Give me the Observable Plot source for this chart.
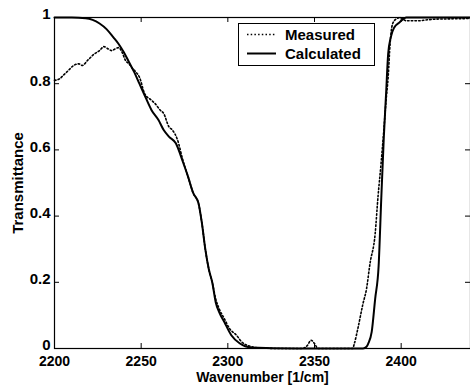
<!DOCTYPE html>
<html><head><meta charset="utf-8">
<script src="https://cdn.jsdelivr.net/npm/d3@7"></script>
<script src="https://cdn.jsdelivr.net/npm/@observablehq/plot@0.6"></script>
<style>
body{margin:0;background:#fff;}
#wrap{position:relative;width:470px;height:385px;overflow:hidden;font-family:"Liberation Sans",Arial,sans-serif;}
#legend{position:absolute;left:238px;top:23px;width:135px;height:41px;border:1px solid #000;background:#fff;font-size:15px;font-weight:bold;color:#000;}
#legend svg{position:absolute;left:0;top:0;}
#legend .t{position:absolute;left:46px;line-height:17px;}
</style></head><body><div id="wrap"></div><script>
const calcW = [2200,2210,2218,2222,2226,2230,2234,2237,2240,2243,2246,2249,2252,2256,2260,2263,2266,2270,2274,2277,2280,2283,2285,2287,2289,2291,2293,2295,2298,2302,2307,2313,2340,2378,2380,2381,2383,2385,2387,2388.5,2390,2391.3,2392.5,2394,2396,2399,2403,2440];
const calcT = [1,1,0.998,0.993,0.982,0.965,0.94,0.92,0.895,0.865,0.835,0.8,0.765,0.72,0.69,0.66,0.64,0.62,0.565,0.52,0.47,0.44,0.38,0.3,0.24,0.2,0.14,0.11,0.08,0.04,0.015,0.003,0,0,0.005,0.015,0.05,0.15,0.25,0.45,0.64,0.77,0.89,0.94,0.97,0.985,1,1];
const measW = [2200,2203,2205,2208,2211,2214,2216,2219,2223,2226,2228.5,2231,2233,2235,2237,2239,2241,2243,2245,2247,2249,2252,2256,2258,2261,2263,2266,2268,2271,2274,2277,2280,2283,2285,2287,2289,2291,2293,2295,2298,2301,2305,2308,2312,2318,2330,2343,2346,2348,2350,2352,2360,2372,2373,2375,2378,2380,2382,2385,2386.6,2388.4,2390,2391.3,2392.5,2393.6,2395,2397,2399.5,2403,2410,2415,2420,2430,2440];
const measT = [0.81,0.815,0.825,0.84,0.855,0.86,0.855,0.87,0.89,0.9,0.912,0.905,0.9,0.905,0.909,0.895,0.87,0.86,0.846,0.835,0.82,0.77,0.75,0.74,0.72,0.71,0.67,0.66,0.63,0.57,0.52,0.47,0.44,0.38,0.3,0.24,0.2,0.15,0.12,0.09,0.06,0.04,0.02,0.008,0.002,0,0,0.01,0.025,0.015,0,0,0,0.015,0.06,0.136,0.18,0.256,0.347,0.456,0.559,0.66,0.75,0.82,0.92,0.98,0.995,1,0.99,0.99,0.993,0.995,0.996,0.997];
const xTicks = [2200,2250,2300,2350,2400];
const yTicks = [0,0.2,0.4,0.6,0.8,1];
const seriesNames = ["Measured","Calculated"];
const xLabel = "Wavenumber [1/cm]";
const yLabel = "Transmittance";

const calc = calcW.map((w,i)=>({w, t: calcT[i]}));
const meas = measW.map((w,i)=>({w, t: measT[i]}));

const W = 470, H = 385, mL = 54, mR = 0, mT = 17, mB = 37;
const pw = W - mL - mR, ph = H - mT - mB, tk = 5;
const dots = "1.5,2.2";

const chart = Plot.plot({
  width: W, height: H,
  marginLeft: mL, marginRight: mR, marginTop: mT, marginBottom: mB,
  style: {fontFamily: '"Liberation Sans", Arial, sans-serif', fontSize: "15px", fontWeight: "bold", background: "#fff", color: "#000"},
  x: {domain: [2200, 2440]},
  y: {domain: [0, 1]},
  marks: [
    Plot.axisX(xTicks, {tickSize: 0, tickPadding: 8, tickFormat: d => String(d), label: null, fontWeight: "bold", fontSize: 14}),
    Plot.axisY(yTicks, {tickSize: 0, tickPadding: 4, tickFormat: d => String(d), label: null, fontWeight: "bold", dy: -3}),
    Plot.ruleX(xTicks, {x: d => d, insetTop: ph - tk, stroke: "#000"}),
    Plot.ruleX(xTicks, {x: d => d, insetBottom: ph - tk, stroke: "#000"}),
    Plot.ruleY(yTicks, {y: d => d, insetRight: pw - tk, stroke: "#000"}),
    Plot.ruleY(yTicks, {y: d => d, insetLeft: pw - tk, stroke: "#000"}),
    Plot.line(meas, {x: "w", y: "t", stroke: "#000", strokeWidth: 1.6, strokeDasharray: dots, curve: "monotone-x"}),
    Plot.line(calc, {x: "w", y: "t", stroke: "#000", strokeWidth: 2, curve: "monotone-x"}),
    Plot.frame({stroke: "#000", strokeWidth: 1.2}),
    Plot.text([xLabel], {frameAnchor: "bottom", dy: 29.5, text: d => d, fontWeight: "bold", fontSize: 14, lineAnchor: "middle"}),
    Plot.text([yLabel], {frameAnchor: "left", dx: -36, rotate: -90, textAnchor: "middle", text: d => d, fontWeight: "bold", lineAnchor: "middle"})
  ]
});
const wrap = document.getElementById("wrap");
wrap.appendChild(chart);

const leg = document.createElement("div");
leg.id = "legend";
leg.innerHTML = `<svg width="135" height="41"><line x1="8" x2="37" y1="10.5" y2="10.5" stroke="#000" stroke-width="1.6" stroke-dasharray="${dots}"/><line x1="8" x2="37" y1="29.5" y2="29.5" stroke="#000" stroke-width="2"/></svg>` +
  seriesNames.map((s,i)=>`<div class="t" style="top:${2 + i*19}px">${s}</div>`).join("");
wrap.appendChild(leg);
</script></body></html>
